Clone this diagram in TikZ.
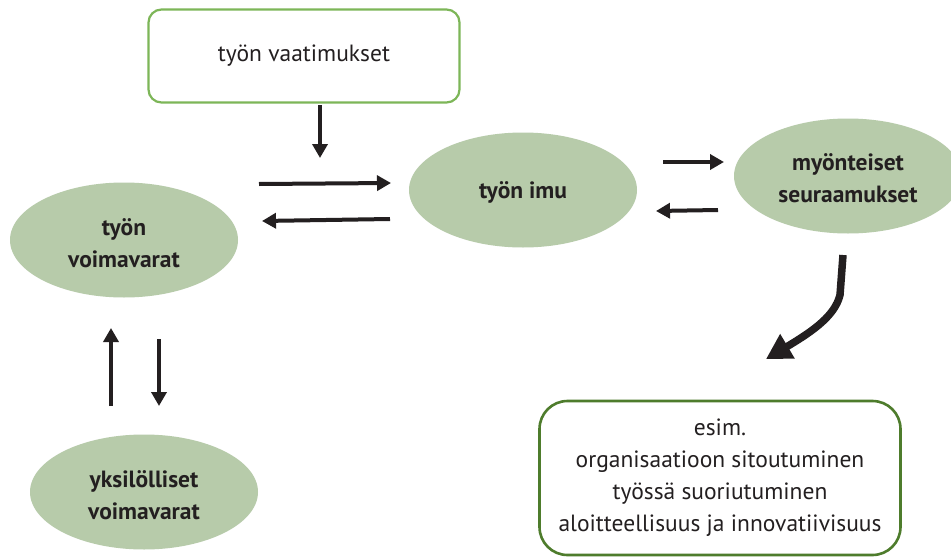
\documentclass[tikz,border=0pt]{standalone}
\usepackage{fontspec}
\setmainfont{PT Sans}
\usetikzlibrary{arrows.meta,shapes.geometric}
\definecolor{ellfill}{RGB}{183,203,170}
\definecolor{lightgreen}{RGB}{125,182,88}
\definecolor{darkgreen}{RGB}{78,124,44}
\definecolor{txt}{RGB}{35,31,32}
\begin{document}
\begin{tikzpicture}[x=1pt,y=-1pt,
  ell/.style={ellipse, fill=ellfill, draw=none, inner sep=0pt, minimum width=228pt, minimum height=115pt},
  elltxt/.style={align=center, font=\fontsize{23.5}{32}\selectfont\bfseries, text=txt},
  boxa/.style={draw=lightgreen, line width=2.2pt, rounded corners=13pt, minimum width=311pt, minimum height=93pt, inner sep=0pt, font=\fontsize{23.5}{32}\selectfont, text=txt},
  boxb/.style={draw=darkgreen, line width=2.6pt, rounded corners=28pt, minimum width=361pt, minimum height=154pt, inner sep=0pt},
  txtb/.style={align=center, font=\fontsize{23.5}{32}\selectfont, text=txt},
  arr/.style={line width=4pt, txt, -{Triangle[length=14pt,width=15pt]}},
  bigarr/.style={line width=7.5pt, txt, -{Triangle[length=25pt,width=27pt]}}
]
\useasboundingbox (0,0) rectangle (951,557);
\fill[white] (0,0) rectangle (951,557);

\node[boxa] (vaat) at (304,56) {työn vaatimukset};
\node[ell] (imu) at (523,190) {};
\node[elltxt] (imut) at (523,192) {työn imu};
\node[ell] (myon) at (848,176) {};
\node[elltxt] (myont) at (848,178) {myönteiset\\seuraamukset};
\node[ell] (voima) at (124,240) {};
\node[elltxt] (voimat) at (124,243) {työn\\voimavarat};
\node[ell] (yksi) at (144,492) {};
\node[elltxt] (yksit) at (144,495) {yksilölliset\\voimavarat};
\node[boxb] (esim) at (720,478) {};
\node[txtb] (esimt) at (720,478) {esim.\\organisaatioon sitoutuminen\\työssä suoriutuminen\\aloitteellisuus ja innovatiivisuus};

% arrow end points
\coordinate (a1s) at (320,105); \coordinate (a1e) at (320,158);
\coordinate (a2s) at (259,184); \coordinate (a2e) at (391,183);
\coordinate (a3s) at (390,219); \coordinate (a3e) at (262,221);
\coordinate (a4s) at (663,162); \coordinate (a4e) at (724,162);
\coordinate (a5s) at (718,210); \coordinate (a5e) at (656,211);
\coordinate (a6s) at (111,406); \coordinate (a6e) at (111,328);
\coordinate (a7s) at (159,339); \coordinate (a7e) at (159,406);
\coordinate (c1) at (843,255); \coordinate (c2) at (840,295);
\coordinate (c3) at (835,315); \coordinate (c4) at (815,330);
\coordinate (c5) at (766,359);

\draw[arr] (a1s) -- (a1e);
\draw[arr] (a2s) -- (a2e);
\draw[arr] (a3s) -- (a3e);
\draw[arr] (a4s) -- (a4e);
\draw[arr] (a5s) -- (a5e);
\draw[arr] (a6s) -- (a6e);
\draw[arr] (a7s) -- (a7e);
\draw[bigarr] (c1) -- (c2) .. controls (c3) and (c4) .. (c5);
\end{tikzpicture}
\end{document}
